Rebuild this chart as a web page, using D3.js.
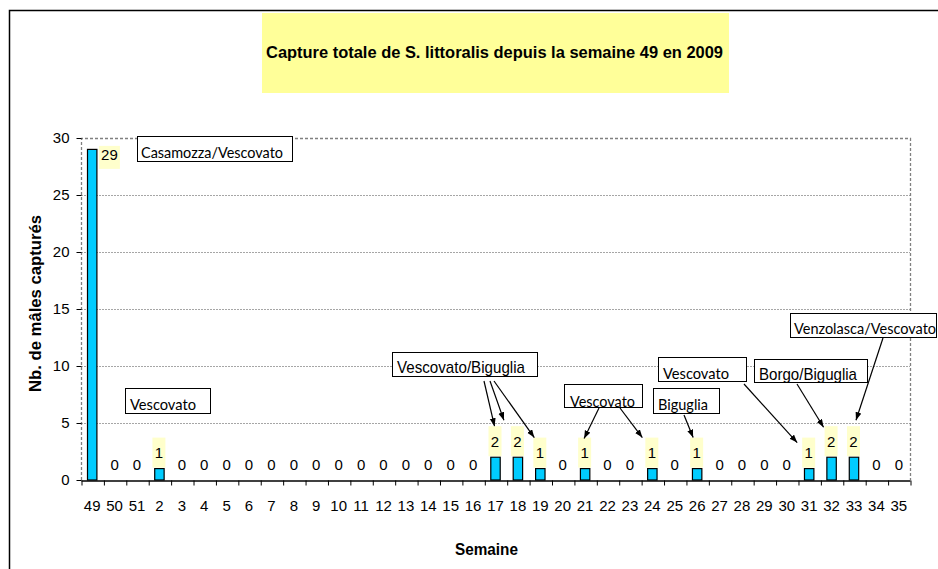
<!DOCTYPE html>
<html>
<head>
<meta charset="utf-8">
<script src="https://cdn.jsdelivr.net/npm/d3@7"></script>
<style>
  body { margin: 0; background: #fff; }
  svg { display: block; }
</style>
</head>
<body>
<div id="chart"></div>
<script>
// Weekly catches (week 49 of 2009 up to week 35 of 2010)
var weeks = ['49', '50', '51', '2', '3', '4', '5', '6', '7', '8', '9', '10', '11', '12', '13', '14',
  '15', '16', '17', '18', '19', '20', '21', '22', '23', '24', '25', '26', '27', '28', '29', '30',
  '31', '32', '33', '34', '35'];
var captures = [29, 0, 0, 1, 0, 0, 0, 0, 0, 0, 0, 0, 0, 0, 0, 0, 0, 0,
  2, 2, 1, 0, 1, 0, 0, 1, 0, 1, 0, 0, 0, 0, 1, 2, 2, 0, 0];
var yTicks = [0, 5, 10, 15, 20, 25, 30];

var titleText = 'Capture totale de S. littoralis depuis la semaine 49 en 2009';
var yTitle = 'Nb. de mâles capturés';
var xTitle = 'Semaine';

// Callout texts and the weeks they point at
var notes = ['Casamozza/Vescovato', 'Vescovato', 'Vescovato/Biguglia', 'Vescovato',
  'Biguglia', 'Vescovato', 'Borgo/Biguglia', 'Venzolasca/Vescovato'];
var noteTargets = [[], [], ['17', '18', '19'], ['21', '24'], ['26'], ['31'], ['32'], ['33']];

var width = 938, height = 569;
var plot = { left: 81, right: 910, top: 138, bottom: 480 };
var arial = '"Liberation Sans", Arial, sans-serif';
var calibri = 'Lato, "Open Sans", sans-serif';

// Callout box layout
var noteBoxes = [
  { x: 137, y: 136, w: 155, h: 25, tx: 141, ty: 158, tl: 142, font: calibri, size: 16 },
  { x: 125, y: 388, w: 85, h: 25, tx: 130, ty: 410, tl: 66, font: calibri, size: 16 },
  { x: 392, y: 352, w: 145, h: 24, tx: 397, ty: 373, tl: 128, font: arial, size: 17 },
  { x: 564, y: 384, w: 78, h: 23, tx: 570, ty: 407, tl: 65, font: calibri, size: 16 },
  { x: 653, y: 388, w: 66, h: 25, tx: 658, ty: 410, tl: 50, font: calibri, size: 16 },
  { x: 658, y: 357, w: 88, h: 24, tx: 663, ty: 379, tl: 66, font: calibri, size: 16 },
  { x: 754, y: 359, w: 113, h: 23, tx: 759, ty: 380, tl: 98, font: arial, size: 17 },
  { x: 790, y: 313, w: 146, h: 24, tx: 794, ty: 334, tl: null, font: calibri, size: 14.5 },
];
// arrow start [x, y] and end offset [dx, dy] from the top of the target label
var noteArrows = [
  [], [],
  [[484, 381, -1, 0], [490, 381, -14, -6], [494, 381, -6, 0]],
  [[599, 408, -1, 1], [620, 408, -10, 0]],
  [[684, 415, -4, 0]],
  [[744, 384, -12, 5]],
  [[797, 384, -8, 1]],
  [[883, 338, 2, -6]],
];

var x = d3.scaleBand().domain(weeks).range([plot.left, plot.right]).padding(0);
var xIndex = d3.scaleLinear().domain([0, weeks.length]).range([plot.left, plot.right]);
var y = d3.scaleLinear().domain([0, 30]).range([plot.bottom, plot.top]);

var svg = d3.select('#chart').append('svg')
  .attr('width', width)
  .attr('height', height);

svg.append('defs').append('marker')
  .attr('id', 'arrow')
  .attr('markerUnits', 'userSpaceOnUse')
  .attr('markerWidth', 9).attr('markerHeight', 7)
  .attr('refX', 8).attr('refY', 3)
  .attr('orient', 'auto')
  .append('path').attr('d', 'M0,0L8,3L0,6Z').attr('fill', '#000');

// outer chart border
svg.append('rect')
  .attr('x', 9.5).attr('y', 10.5)
  .attr('width', 960).attr('height', 580)
  .attr('fill', 'none').attr('stroke', '#000').attr('stroke-width', 1.5);

// title
svg.append('rect')
  .attr('x', 262).attr('y', 13).attr('width', 467).attr('height', 80)
  .attr('fill', '#ffff99');
svg.append('text')
  .attr('x', 266).attr('y', 58)
  .attr('textLength', 457).attr('lengthAdjust', 'spacingAndGlyphs')
  .attr('font-family', arial).attr('font-size', 17).attr('font-weight', 'bold')
  .text(titleText);

// gridlines
svg.append('g')
  .selectAll('line')
  .data(yTicks.filter((d) => d > 0 && d < 30))
  .join('line')
  .attr('x1', plot.left).attr('x2', plot.right)
  .attr('y1', (d) => y(d) + 0.5).attr('y2', (d) => y(d) + 0.5)
  .attr('stroke', '#a6a6a6').attr('stroke-dasharray', '2,1');

// plot frame (dashed)
svg.append('path')
  .attr('d', `M${plot.left + 0.5},${plot.bottom}V${plot.top + 0.5}H${plot.right + 0.5}V${plot.bottom}`)
  .attr('fill', 'none').attr('stroke', '#808080').attr('stroke-width', 1.3)
  .attr('stroke-dasharray', '3,2');

// y axis
var yAxis = svg.append('g')
  .attr('transform', `translate(${plot.left + 0.5},0)`)
  .call(d3.axisLeft(y).tickValues(yTicks).tickSize(5).tickPadding(7).tickSizeOuter(0));
yAxis.select('.domain').remove();
yAxis.selectAll('text').attr('font-family', arial).attr('font-size', 15).attr('fill', '#000');

// x axis: boundary ticks and labels
var xTickAxis = svg.append('g')
  .attr('transform', `translate(0,${plot.bottom + 0.5})`)
  .call(d3.axisBottom(xIndex).tickValues(d3.range(weeks.length + 1)).tickFormat('').tickSize(5).tickSizeOuter(0));
xTickAxis.select('.domain').attr('stroke-width', 1.3);
xTickAxis.selectAll('.tick line').attr('transform', 'translate(0.5,0)');

var xAxis = svg.append('g')
  .attr('transform', `translate(0,${plot.bottom})`)
  .call(d3.axisBottom(x).tickSize(0).tickPadding(20));
xAxis.select('.domain').remove();
xAxis.selectAll('text').attr('font-family', arial).attr('font-size', 15).attr('fill', '#000');

// axis titles
svg.append('text')
  .attr('transform', `translate(41,${(215 + 392) / 2}) rotate(-90)`)
  .attr('text-anchor', 'middle')
  .attr('textLength', 177).attr('lengthAdjust', 'spacingAndGlyphs')
  .attr('font-family', arial).attr('font-size', 16).attr('font-weight', 'bold')
  .text(yTitle);
svg.append('text')
  .attr('x', 455).attr('y', 555)
  .attr('textLength', 63).attr('lengthAdjust', 'spacingAndGlyphs')
  .attr('font-family', arial).attr('font-size', 17).attr('font-weight', 'bold')
  .text(xTitle);

// bars
var barW = x.bandwidth() * 0.42;
var barData = weeks.map((w, i) => ({ week: w, value: captures[i] }));
svg.append('g')
  .selectAll('rect')
  .data(barData.filter((d) => d.value > 0))
  .join('rect')
  .attr('x', (d) => x(d.week) + x.bandwidth() / 2 - barW / 2)
  .attr('y', (d) => y(d.value))
  .attr('width', barW)
  .attr('height', (d) => y(0) - y(d.value))
  .attr('fill', '#00ccff')
  .attr('stroke', '#000').attr('stroke-width', 1.2);

// value labels
var labels = svg.append('g').attr('font-family', arial).attr('font-size', 15);
barData.forEach(function (d) {
  var cx = x(d.week) + x.bandwidth() / 2;
  var top = y(d.value);
  var s = String(d.value);
  if (d.value === 0) {
    labels.append('text').attr('x', cx).attr('y', top - 10.5)
      .attr('text-anchor', 'middle').text(s);
  } else if (top - 31 < plot.top) {
    // no room above: label sits to the right of the bar
    var lx = cx + barW / 2 + 2;
    labels.append('rect').attr('x', lx).attr('y', top - 3.5)
      .attr('width', 21).attr('height', 23).attr('fill', '#ffffcc');
    labels.append('text').attr('x', lx + 10.5).attr('y', top + 10.5)
      .attr('text-anchor', 'middle').text(s);
  } else {
    labels.append('rect').attr('x', cx - 7).attr('y', top - 31)
      .attr('width', 13).attr('height', 30).attr('fill', '#ffffcc');
    labels.append('text').attr('x', cx - 0.5).attr('y', top - 10.5)
      .attr('text-anchor', 'middle').text(s);
  }
});

// callouts
var callouts = svg.append('g');
notes.forEach(function (note, i) {
  var b = noteBoxes[i];
  callouts.append('rect')
    .attr('x', b.x + 0.5).attr('y', b.y + 0.5)
    .attr('width', b.w).attr('height', b.h)
    .attr('fill', '#fff').attr('stroke', '#000').attr('stroke-width', 1);
  var t = callouts.append('text')
    .attr('x', b.tx).attr('y', b.ty)
    .attr('font-family', b.font).attr('font-size', b.size)
    .text(note);
  if (b.tl) t.attr('textLength', b.tl).attr('lengthAdjust', 'spacingAndGlyphs');
  noteTargets[i].forEach(function (w, j) {
    var a = noteArrows[i][j];
    var v = captures[weeks.indexOf(w)];
    var ex = x(w) + x.bandwidth() / 2 + a[2];
    var ey = y(v) - 31 + a[3];
    callouts.append('line')
      .attr('x1', a[0]).attr('y1', a[1])
      .attr('x2', ex).attr('y2', ey)
      .attr('stroke', '#000').attr('stroke-width', 1.2)
      .attr('marker-end', 'url(#arrow)');
  });
});
</script>
</body>
</html>
